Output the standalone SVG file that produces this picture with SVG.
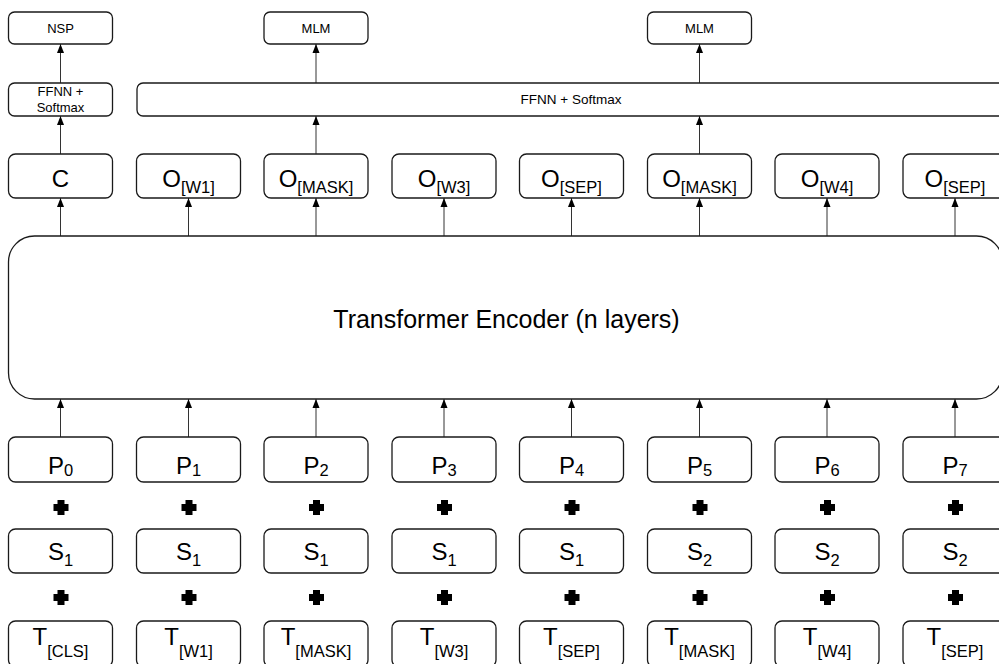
<svg xmlns="http://www.w3.org/2000/svg" width="999" height="664" viewBox="0 0 999 664">
<defs>
<style>
.box{fill:#fff;stroke:#1a1a1a;stroke-width:1.3}
.t{font-family:"Liberation Sans",Arial,sans-serif;fill:#000;text-anchor:middle}
.s{font-size:13px}
.b{font-size:24px}
.sub{font-size:16.5px}
.cn{stroke:#333;stroke-width:1;fill:none;marker-end:url(#ah)}
.plus{fill:#000}
</style>
<marker id="ah" markerUnits="userSpaceOnUse" markerWidth="9" markerHeight="8" refX="9" refY="4" orient="auto">
<path d="M0,0.5 L9,4 L0,7.5 z" fill="#000"/>
</marker>
</defs>
<rect width="999" height="664" fill="#fff"/>

<g id="connectors">
<line class="cn" x1="60.5" y1="437" x2="60.5" y2="399"/>
<line class="cn" x1="188.5" y1="437" x2="188.5" y2="399"/>
<line class="cn" x1="316" y1="437" x2="316" y2="399"/>
<line class="cn" x1="444" y1="437" x2="444" y2="399"/>
<line class="cn" x1="571.5" y1="437" x2="571.5" y2="399"/>
<line class="cn" x1="699.5" y1="437" x2="699.5" y2="399"/>
<line class="cn" x1="827" y1="437" x2="827" y2="399"/>
<line class="cn" x1="955" y1="437" x2="955" y2="399"/>
<line class="cn" x1="60.5" y1="236" x2="60.5" y2="198"/>
<line class="cn" x1="188.5" y1="236" x2="188.5" y2="198"/>
<line class="cn" x1="316" y1="236" x2="316" y2="198"/>
<line class="cn" x1="444" y1="236" x2="444" y2="198"/>
<line class="cn" x1="571.5" y1="236" x2="571.5" y2="198"/>
<line class="cn" x1="699.5" y1="236" x2="699.5" y2="198"/>
<line class="cn" x1="827" y1="236" x2="827" y2="198"/>
<line class="cn" x1="955" y1="236" x2="955" y2="198"/>
<line class="cn" x1="60.5" y1="154" x2="60.5" y2="116"/>
<line class="cn" x1="316" y1="154" x2="316" y2="116"/>
<line class="cn" x1="699.5" y1="154" x2="699.5" y2="116"/>
<line class="cn" x1="60.5" y1="83" x2="60.5" y2="44"/>
<line class="cn" x1="316" y1="83" x2="316" y2="44"/>
<line class="cn" x1="699.5" y1="83" x2="699.5" y2="44"/>
</g>

<g id="nsp"><rect class="box" x="8.5" y="12" width="104" height="32" rx="6"/><text class="t s" x="60.5" y="33">NSP</text></g>
<g id="mlm1"><rect class="box" x="264" y="12" width="104" height="32" rx="6"/><text class="t s" x="316" y="33">MLM</text></g>
<g id="mlm2"><rect class="box" x="647.5" y="12" width="104" height="32" rx="6"/><text class="t s" x="699.5" y="33">MLM</text></g>

<g id="ffnn-nsp"><rect class="box" x="8.5" y="83" width="104" height="33" rx="6"/><text class="t s" x="60.5" y="96">FFNN +</text><text class="t s" x="60.5" y="112">Softmax</text></g>
<g id="ffnn-mlm"><rect class="box" x="137" y="83" width="868" height="33" rx="6"/><text class="t" style="font-size:13.5px" x="571" y="104">FFNN + Softmax</text></g>

<g id="o0"><rect class="box" x="8.5" y="154" width="104" height="44" rx="7"/><text class="t b" x="60.5" y="187">C</text></g>
<g id="o1"><rect class="box" x="136.5" y="154" width="104" height="44" rx="7"/><text class="t b" x="188.5" y="187">O<tspan class="sub" dy="6">[W1]</tspan></text></g>
<g id="o2"><rect class="box" x="264" y="154" width="104" height="44" rx="7"/><text class="t b" x="316" y="187">O<tspan class="sub" dy="6">[MASK]</tspan></text></g>
<g id="o3"><rect class="box" x="392" y="154" width="104" height="44" rx="7"/><text class="t b" x="444" y="187">O<tspan class="sub" dy="6">[W3]</tspan></text></g>
<g id="o4"><rect class="box" x="519.5" y="154" width="104" height="44" rx="7"/><text class="t b" x="571.5" y="187">O<tspan class="sub" dy="6">[SEP]</tspan></text></g>
<g id="o5"><rect class="box" x="647.5" y="154" width="104" height="44" rx="7"/><text class="t b" x="699.5" y="187">O<tspan class="sub" dy="6">[MASK]</tspan></text></g>
<g id="o6"><rect class="box" x="775" y="154" width="104" height="44" rx="7"/><text class="t b" x="827" y="187">O<tspan class="sub" dy="6">[W4]</tspan></text></g>
<g id="o7"><rect class="box" x="903" y="154" width="104" height="44" rx="7"/><text class="t b" x="955" y="187">O<tspan class="sub" dy="6">[SEP]</tspan></text></g>

<g id="encoder"><rect class="box" x="8.5" y="236" width="994" height="163" rx="26"/><text class="t" style="font-size:25px" x="506.5" y="328">Transformer Encoder (n layers)</text></g>

<g id="p0"><rect class="box" x="8.5" y="437" width="104" height="45" rx="7"/><text class="t b" x="60.5" y="474">P<tspan class="sub" dy="2">0</tspan></text></g>
<g id="p1"><rect class="box" x="136.5" y="437" width="104" height="45" rx="7"/><text class="t b" x="188.5" y="474">P<tspan class="sub" dy="2">1</tspan></text></g>
<g id="p2"><rect class="box" x="264" y="437" width="104" height="45" rx="7"/><text class="t b" x="316" y="474">P<tspan class="sub" dy="2">2</tspan></text></g>
<g id="p3"><rect class="box" x="392" y="437" width="104" height="45" rx="7"/><text class="t b" x="444" y="474">P<tspan class="sub" dy="2">3</tspan></text></g>
<g id="p4"><rect class="box" x="519.5" y="437" width="104" height="45" rx="7"/><text class="t b" x="571.5" y="474">P<tspan class="sub" dy="2">4</tspan></text></g>
<g id="p5"><rect class="box" x="647.5" y="437" width="104" height="45" rx="7"/><text class="t b" x="699.5" y="474">P<tspan class="sub" dy="2">5</tspan></text></g>
<g id="p6"><rect class="box" x="775" y="437" width="104" height="45" rx="7"/><text class="t b" x="827" y="474">P<tspan class="sub" dy="2">6</tspan></text></g>
<g id="p7"><rect class="box" x="903" y="437" width="104" height="45" rx="7"/><text class="t b" x="955" y="474">P<tspan class="sub" dy="2">7</tspan></text></g>

<g id="plus-row1" class="plus">
<path d="M57.5,500h7v4h4v7h-4v4h-7v-4h-4v-7h4z"/>
<path d="M57.5,500h7v4h4v7h-4v4h-7v-4h-4v-7h4z" transform="translate(128,0)"/>
<path d="M57.5,500h7v4h4v7h-4v4h-7v-4h-4v-7h4z" transform="translate(255.5,0)"/>
<path d="M57.5,500h7v4h4v7h-4v4h-7v-4h-4v-7h4z" transform="translate(383.5,0)"/>
<path d="M57.5,500h7v4h4v7h-4v4h-7v-4h-4v-7h4z" transform="translate(511,0)"/>
<path d="M57.5,500h7v4h4v7h-4v4h-7v-4h-4v-7h4z" transform="translate(639,0)"/>
<path d="M57.5,500h7v4h4v7h-4v4h-7v-4h-4v-7h4z" transform="translate(766.5,0)"/>
<path d="M57.5,500h7v4h4v7h-4v4h-7v-4h-4v-7h4z" transform="translate(894.5,0)"/>
</g>

<g id="s0"><rect class="box" x="8.5" y="529" width="104" height="44" rx="7"/><text class="t b" x="60.5" y="560">S<tspan class="sub" dy="6">1</tspan></text></g>
<g id="s1"><rect class="box" x="136.5" y="529" width="104" height="44" rx="7"/><text class="t b" x="188.5" y="560">S<tspan class="sub" dy="6">1</tspan></text></g>
<g id="s2"><rect class="box" x="264" y="529" width="104" height="44" rx="7"/><text class="t b" x="316" y="560">S<tspan class="sub" dy="6">1</tspan></text></g>
<g id="s3"><rect class="box" x="392" y="529" width="104" height="44" rx="7"/><text class="t b" x="444" y="560">S<tspan class="sub" dy="6">1</tspan></text></g>
<g id="s4"><rect class="box" x="519.5" y="529" width="104" height="44" rx="7"/><text class="t b" x="571.5" y="560">S<tspan class="sub" dy="6">1</tspan></text></g>
<g id="s5"><rect class="box" x="647.5" y="529" width="104" height="44" rx="7"/><text class="t b" x="699.5" y="560">S<tspan class="sub" dy="6">2</tspan></text></g>
<g id="s6"><rect class="box" x="775" y="529" width="104" height="44" rx="7"/><text class="t b" x="827" y="560">S<tspan class="sub" dy="6">2</tspan></text></g>
<g id="s7"><rect class="box" x="903" y="529" width="104" height="44" rx="7"/><text class="t b" x="955" y="560">S<tspan class="sub" dy="6">2</tspan></text></g>

<g id="plus-row2" class="plus">
<path d="M57.5,590h7v4h4v7h-4v4h-7v-4h-4v-7h4z"/>
<path d="M57.5,590h7v4h4v7h-4v4h-7v-4h-4v-7h4z" transform="translate(128,0)"/>
<path d="M57.5,590h7v4h4v7h-4v4h-7v-4h-4v-7h4z" transform="translate(255.5,0)"/>
<path d="M57.5,590h7v4h4v7h-4v4h-7v-4h-4v-7h4z" transform="translate(383.5,0)"/>
<path d="M57.5,590h7v4h4v7h-4v4h-7v-4h-4v-7h4z" transform="translate(511,0)"/>
<path d="M57.5,590h7v4h4v7h-4v4h-7v-4h-4v-7h4z" transform="translate(639,0)"/>
<path d="M57.5,590h7v4h4v7h-4v4h-7v-4h-4v-7h4z" transform="translate(766.5,0)"/>
<path d="M57.5,590h7v4h4v7h-4v4h-7v-4h-4v-7h4z" transform="translate(894.5,0)"/>
</g>

<g id="t0"><rect class="box" x="8.5" y="621" width="104" height="46" rx="7"/><text class="t b" x="60.5" y="645">T<tspan class="sub" dy="12">[CLS]</tspan></text></g>
<g id="t1"><rect class="box" x="136.5" y="621" width="104" height="46" rx="7"/><text class="t b" x="188.5" y="645">T<tspan class="sub" dy="12">[W1]</tspan></text></g>
<g id="t2"><rect class="box" x="264" y="621" width="104" height="46" rx="7"/><text class="t b" x="316" y="645">T<tspan class="sub" dy="12">[MASK]</tspan></text></g>
<g id="t3"><rect class="box" x="392" y="621" width="104" height="46" rx="7"/><text class="t b" x="444" y="645">T<tspan class="sub" dy="12">[W3]</tspan></text></g>
<g id="t4"><rect class="box" x="519.5" y="621" width="104" height="46" rx="7"/><text class="t b" x="571.5" y="645">T<tspan class="sub" dy="12">[SEP]</tspan></text></g>
<g id="t5"><rect class="box" x="647.5" y="621" width="104" height="46" rx="7"/><text class="t b" x="699.5" y="645">T<tspan class="sub" dy="12">[MASK]</tspan></text></g>
<g id="t6"><rect class="box" x="775" y="621" width="104" height="46" rx="7"/><text class="t b" x="827" y="645">T<tspan class="sub" dy="12">[W4]</tspan></text></g>
<g id="t7"><rect class="box" x="903" y="621" width="104" height="46" rx="7"/><text class="t b" x="955" y="645">T<tspan class="sub" dy="12">[SEP]</tspan></text></g>
</svg>
